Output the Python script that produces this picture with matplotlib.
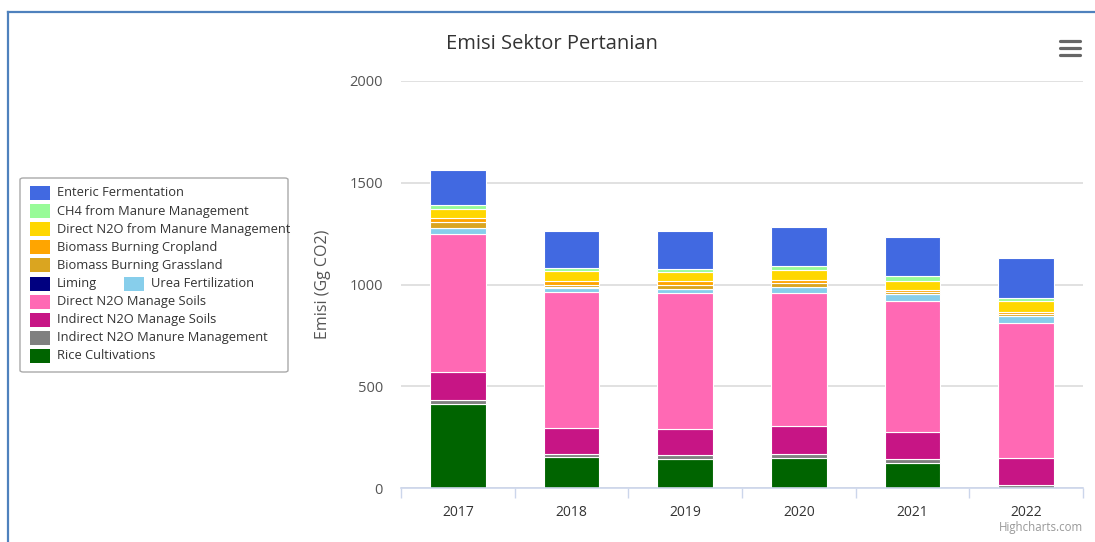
import matplotlib
matplotlib.use('Agg')
import matplotlib.pyplot as plt
from matplotlib.patches import Rectangle, FancyBboxPatch
from matplotlib.lines import Line2D

plt.rcParams['font.family'] = ['Open Sans', 'DejaVu Sans']

W, H = 1095, 542

years = ['2017', '2018', '2019', '2020', '2021', '2022']

# series values (Gg CO2)
enteric = [174, 182, 187, 192, 192, 195]
ch4_manure = [16, 16, 15, 19, 21, 16]
direct_n2o_manure = [45, 47, 44, 50, 46, 53]
burning_cropland = [21, 18, 17, 17, 12, 10]
burning_grassland = [29, 14, 21, 17, 8, 10]
liming = [1, 1, 1, 1, 1, 1]
urea = [27, 22, 21, 29, 34, 32]
direct_n2o_soils = [680, 666, 667, 655, 644, 666]
indirect_n2o_soils = [136, 131, 129, 137, 133, 133]
indirect_n2o_manure = [20, 16, 18, 17, 16, 13]
rice = [414, 150, 143, 149, 125, 0]

# legend order (top of stack first)
series = [
    ('Enteric Fermentation', enteric, '#4169E1'),
    ('CH4 from Manure Management', ch4_manure, '#98FB98'),
    ('Direct N2O from Manure Management', direct_n2o_manure, '#FFD700'),
    ('Biomass Burning Cropland', burning_cropland, '#FFA500'),
    ('Biomass Burning Grassland', burning_grassland, '#DAA520'),
    ('Liming', liming, '#000080'),
    ('Urea Fertilization', urea, '#87CEEB'),
    ('Direct N2O Manage Soils', direct_n2o_soils, '#FF69B4'),
    ('Indirect N2O Manage Soils', indirect_n2o_soils, '#C71585'),
    ('Indirect N2O Manure Management', indirect_n2o_manure, '#808080'),
    ('Rice Cultivations', rice, '#006400'),
]


def fx(x):
    return x / W


def fy(y):
    return 1 - y / H


fig = plt.figure(figsize=(W / 100, H / 100), dpi=100)
ax = fig.add_axes([fx(401), fy(488), fx(1083) - fx(401), fy(81) - fy(488)])

x = list(range(len(years)))
bottom = [0] * len(years)
for name, vals, color in reversed(series):
    ax.bar(x, vals, bottom=bottom, width=0.49, color=color,
           edgecolor='white', linewidth=0.8, zorder=3)
    bottom = [b + v for b, v in zip(bottom, vals)]

ax.set_ylim(0, 2000)
ax.set_xlim(-0.5, len(years) - 0.5)
ax.set_yticks([0, 500, 1000, 1500, 2000])
ax.grid(axis='y', color='#dedede', linewidth=1.3, zorder=0)
ax.set_axisbelow(True)
for s in ['left', 'right', 'top']:
    ax.spines[s].set_visible(False)
ax.spines['bottom'].set_color('#ccd6eb')
ax.spines['bottom'].set_linewidth(1.2)
ax.spines['bottom'].set_zorder(4)

ax.set_xticks(x)
ax.set_xticklabels(years)
ax.set_xticks([i - 0.5 for i in range(len(years) + 1)], minor=True)
ax.tick_params(axis='x', which='major', length=0, pad=12, labelsize=10,
               labelcolor='#333333')
ax.tick_params(axis='x', which='minor', length=7, color='#ccd6eb', width=1)
ax.tick_params(axis='y', length=0, pad=13, labelsize=10.5, labelcolor='#555555')
ax.set_ylabel('Emisi (Gg CO2)', fontsize=11.5, color='#555555')
ax.yaxis.set_label_coords((331 - 401) / 682, 0.5)

fig.text(fx(552), fy(44), 'Emisi Sektor Pertanian', ha='center', va='center',
         fontsize=14.5, color='#333333')
fig.text(fx(1083), fy(527), 'Highcharts.com', ha='right', va='center',
         fontsize=8.3, color='#999999')

# menu icon
for yy in [41, 48, 55]:
    fig.add_artist(Line2D([fx(1060), fx(1080)], [fy(yy), fy(yy)],
                          color='#666666', linewidth=2.3, solid_capstyle='round'))

# legend box
fig.add_artist(FancyBboxPatch((fx(20), fy(372)), fx(288) - fx(20), fy(178) - fy(372),
                              boxstyle='round,pad=0,rounding_size=0.003',
                              facecolor='white', edgecolor='#aaaaaa', linewidth=1))
rows = [0, 1, 2, 3, 4, 5, 5, 6, 7, 8, 9]
cols = [30, 30, 30, 30, 30, 30, 124, 30, 30, 30, 30]
for (name, vals, color), r, c in zip(series, rows, cols):
    yc = 193 + r * 18.1
    fig.add_artist(Rectangle((fx(c), fy(yc + 7)), fx(20), fy(0) - fy(14),
                             facecolor=color, edgecolor='none'))
    fig.text(fx(c + 27), fy(yc), name, ha='left', va='center',
             fontsize=9.3, color='#333333')

# outer frame of the screenshot
fig.add_artist(Line2D([fx(8), fx(1095)], [fy(12), fy(12)], color='#4f81bd', linewidth=1.6))
fig.add_artist(Line2D([fx(8), fx(8)], [fy(12), fy(542)], color='#4f81bd', linewidth=1.6))

fig.savefig('out.png', dpi=100)
